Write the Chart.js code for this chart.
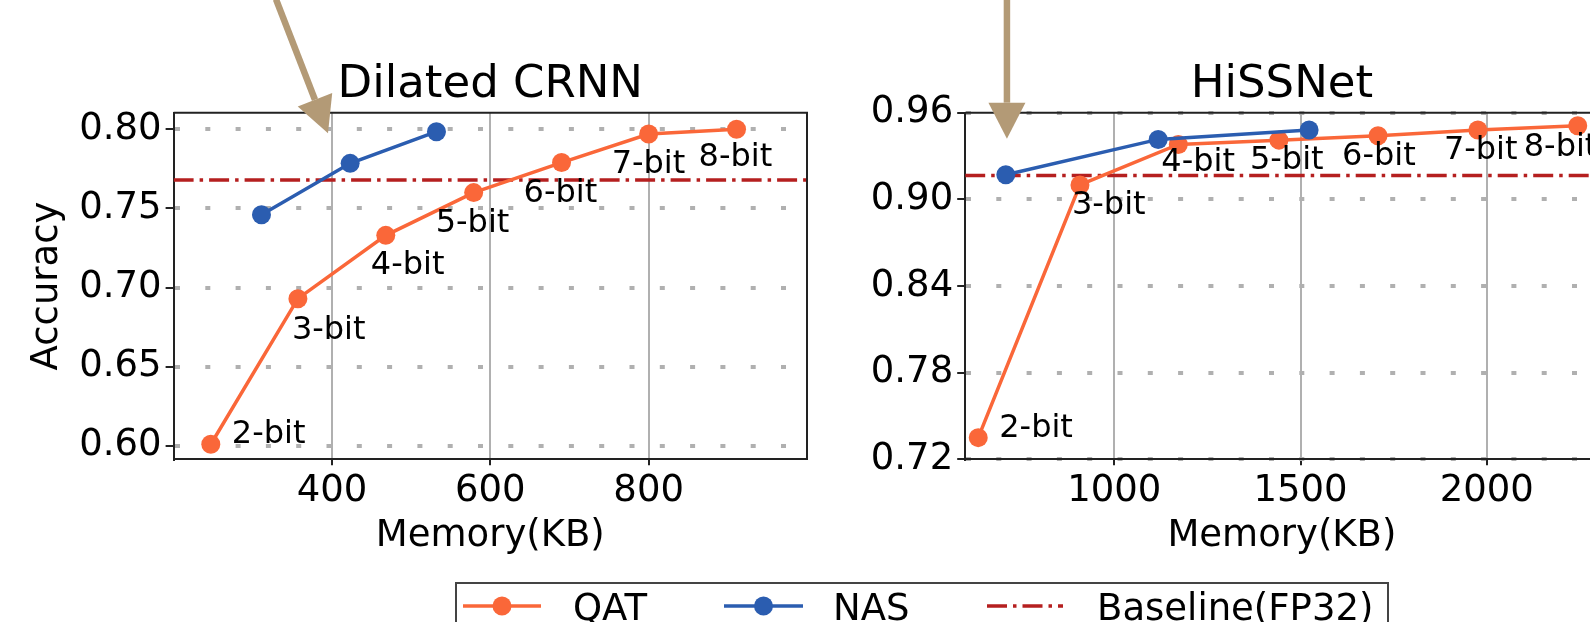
<!DOCTYPE html>
<html>
<head>
<meta charset="utf-8">
<script src="https://cdn.jsdelivr.net/npm/chart.js@4.4.1/dist/chart.umd.min.js"></script>
<style>
  body { margin: 0; background: #fff; overflow: hidden; width: 1590px; height: 622px; position: relative; }
  canvas { position: absolute; top: 0; }
  #crnn { left: 0; }
  #hiss { left: 830px; }
</style>
</head>
<body>
<canvas id="crnn" width="1590" height="622"></canvas>
<canvas id="hiss" width="860" height="622"></canvas>
<script>
// ---- data ----
const bitLabels = ["2-bit", "3-bit", "4-bit", "5-bit", "6-bit", "7-bit", "8-bit"];

// Dilated CRNN
const crnnXTicks = [400, 600, 800];
const crnnYTicks = [0.60, 0.65, 0.70, 0.75, 0.80];
const crnnQatMem = [247, 357, 468, 579, 690, 800, 911];
const crnnQatAcc = [0.601, 0.693, 0.733, 0.760, 0.779, 0.797, 0.800];
const crnnNasMem = [311, 423, 532];
const crnnNasAcc = [0.746, 0.7785, 0.7985];
const crnnBaseline = 0.768;

// HiSSNet
const hissXTicks = [1000, 1500, 2000];
const hissYTicks = [0.72, 0.78, 0.84, 0.90, 0.96];
const hissQatMem = [635, 908, 1172, 1442, 1708, 1976, 2244];
const hissQatAcc = [0.735, 0.910, 0.938, 0.941, 0.944, 0.948, 0.951];
const hissNasMem = [709, 1118, 1523];
const hissNasAcc = [0.917, 0.9415, 0.948];
const hissBaseline = 0.9165;

// ---- style ----
const FONT = '"DejaVu Sans", sans-serif';
const QAT_COLOR = "#fa6739";
const NAS_COLOR = "#2b5db0";
const BASE_COLOR = "#b51f1f";
const ARROW_COLOR = "#b39a76";
const GRID_COLOR = "#b0b0b0";
const SPINE_COLOR = "#222";
const BASE_DASH = [20, 6, 3.5, 6];
const MARKER_R = 9.5;

Chart.defaults.font.family = FONT;
Chart.defaults.color = "#000";

const toPoints = (xs, ys) => xs.map((x, i) => ({ x, y: ys[i] }));

// draws the top/right spines, title, bit labels and the pointer arrow
const decorPlugin = {
  id: "decor",
  afterDatasetsDraw(chart, args, opts) {
    const { ctx } = chart;
    const xs = chart.scales.x, ys = chart.scales.y;
    ctx.save();
    ctx.font = "32px " + FONT;
    ctx.fillStyle = "#000";
    ctx.textBaseline = "alphabetic";
    ctx.textAlign = "left";
    opts.labelAt.forEach((off, i) => {
      const px = xs.getPixelForValue(opts.qatX[i]);
      const py = ys.getPixelForValue(opts.qatY[i]);
      ctx.fillText(bitLabels[i], px + off[0], py + off[1]);
    });
    ctx.restore();
  },
  afterDraw(chart, args, opts) {
    const { ctx, chartArea: a } = chart;
    const xs = chart.scales.x, ys = chart.scales.y;
    ctx.save();
    ctx.strokeStyle = SPINE_COLOR;
    ctx.lineWidth = 2;
    ctx.beginPath();
    ctx.moveTo(a.left, a.top);
    ctx.lineTo(a.right, a.top);
    ctx.lineTo(a.right, a.bottom);
    ctx.stroke();

    ctx.font = "45px " + FONT;
    ctx.fillStyle = "#000";
    ctx.textAlign = "center";
    ctx.textBaseline = "alphabetic";
    ctx.fillText(opts.title, (a.left + a.right) / 2, a.top - 16);

    // arrow
    const tx = xs.getPixelForValue(opts.arrow.x);
    const ty = ys.getPixelForValue(opts.arrow.y);
    const dx = opts.arrow.dx, dy = opts.arrow.dy;
    const len = Math.hypot(dx, dy);
    const ux = -dx / len, uy = -dy / len;
    const headLen = 36, headHalf = 18.5;
    const bx = tx - ux * headLen, by = ty - uy * headLen;
    ctx.strokeStyle = ARROW_COLOR;
    ctx.fillStyle = ARROW_COLOR;
    ctx.lineWidth = 6.5;
    ctx.beginPath();
    ctx.moveTo(tx + dx, ty + dy);
    ctx.lineTo(bx, by);
    ctx.stroke();
    ctx.beginPath();
    ctx.moveTo(tx, ty);
    ctx.lineTo(bx - uy * headHalf, by + ux * headHalf);
    ctx.lineTo(bx + uy * headHalf, by - ux * headHalf);
    ctx.closePath();
    ctx.fill();
    ctx.restore();
  }
};

// legend box under both panels (drawn on the wide left canvas)
const legendPlugin = {
  id: "figLegend",
  afterDraw(chart) {
    const { ctx } = chart;
    const items = [
      { label: "QAT", color: QAT_COLOR, x0: 463, x1: 541, tx: 573, marker: true },
      { label: "NAS", color: NAS_COLOR, x0: 724, x1: 803, tx: 833, marker: true },
      { label: "Baseline(FP32)", color: BASE_COLOR, x0: 987, x1: 1063, tx: 1097, dash: BASE_DASH }
    ];
    const y = 606;
    ctx.save();
    ctx.fillStyle = "#fff";
    ctx.fillRect(456, 583, 932, 60);
    ctx.strokeStyle = "#444";
    ctx.lineWidth = 2;
    ctx.strokeRect(456, 583, 932, 60);
    items.forEach((it) => {
      ctx.strokeStyle = it.color;
      ctx.lineWidth = 3.5;
      ctx.setLineDash(it.dash || []);
      ctx.beginPath();
      ctx.moveTo(it.x0, y);
      ctx.lineTo(it.x1, y);
      ctx.stroke();
      ctx.setLineDash([]);
      if (it.marker) {
        ctx.fillStyle = it.color;
        ctx.beginPath();
        ctx.arc((it.x0 + it.x1) / 2, y, MARKER_R, 0, Math.PI * 2);
        ctx.fill();
      }
      ctx.fillStyle = "#000";
      ctx.font = "37px " + FONT;
      ctx.textBaseline = "alphabetic";
      ctx.fillText(it.label, it.tx, 620);
    });
    ctx.restore();
  }
};

function makePanel(id, p) {
  return new Chart(document.getElementById(id), {
    type: "line",
    data: {
      datasets: [
        {
          label: "QAT",
          data: toPoints(p.qatX, p.qatY),
          borderColor: QAT_COLOR,
          backgroundColor: QAT_COLOR,
          borderWidth: 3.5,
          pointRadius: MARKER_R,
          pointBorderWidth: 0,
          order: 2
        },
        {
          label: "NAS",
          data: toPoints(p.nasX, p.nasY),
          borderColor: NAS_COLOR,
          backgroundColor: NAS_COLOR,
          borderWidth: 3.5,
          pointRadius: MARKER_R,
          pointBorderWidth: 0,
          order: 1
        },
        {
          label: "Baseline(FP32)",
          data: [{ x: p.xMin, y: p.baseline }, { x: p.xMax, y: p.baseline }],
          borderColor: BASE_COLOR,
          borderWidth: 3.5,
          borderDash: BASE_DASH,
          pointRadius: 0,
          order: 3
        }
      ]
    },
    options: {
      responsive: false,
      animation: false,
      events: [],
      layout: { padding: { top: 112.7, left: 0, right: p.padRight, bottom: 63 } },
      plugins: {
        legend: { display: false },
        tooltip: { enabled: false },
        decor: {
          title: p.title,
          qatX: p.qatX,
          qatY: p.qatY,
          labelAt: p.labelAt,
          arrow: p.arrow
        }
      },
      scales: {
        x: {
          type: "linear",
          min: p.xMin,
          max: p.xMax,
          afterBuildTicks: (axis) => { axis.ticks = p.xTicks.map((v) => ({ value: v })); },
          afterFit: (axis) => { axis.height = 99.7; },
          ticks: {
            font: { size: 37, lineHeight: 1 },
            padding: 8,
            maxRotation: 0,
            autoSkip: false,
            callback: (v) => String(v)
          },
          grid: { color: GRID_COLOR, lineWidth: 2, tickColor: SPINE_COLOR, tickLength: 6, tickWidth: 2 },
          border: { color: SPINE_COLOR, width: 2 },
          title: { display: true, text: "Memory(KB)", font: { size: 37, lineHeight: 1.2 }, padding: 0 }
        },
        y: {
          min: p.yMin,
          max: p.yMax,
          afterBuildTicks: (axis) => { axis.ticks = p.yTicks.map((v) => ({ value: v })); },
          afterFit: (axis) => { axis.width = p.yAxisWidth; },
          ticks: {
            font: { size: 37, lineHeight: 1 },
            padding: 4,
            autoSkip: false,
            callback: (v) => v.toFixed(2)
          },
          grid: { color: GRID_COLOR, lineWidth: 4, tickColor: SPINE_COLOR, tickLength: 8, tickWidth: 2, tickBorderDash: [] },
          border: { color: SPINE_COLOR, width: 2, dash: [5, 25.3] },
          title: {
            display: !!p.yTitle,
            text: p.yTitle || "",
            font: { size: 37, lineHeight: 1.2 },
            padding: { top: 25, bottom: 0 }
          }
        }
      }
    },
    plugins: p.extraPlugins ? [decorPlugin, ...p.extraPlugins] : [decorPlugin]
  });
}

makePanel("crnn", {
  title: "Dilated CRNN",
  xMin: 200, xMax: 1000, yMin: 0.5915, yMax: 0.8105,
  xTicks: crnnXTicks, yTicks: crnnYTicks,
  qatX: crnnQatMem, qatY: crnnQatAcc,
  nasX: crnnNasMem, nasY: crnnNasAcc,
  baseline: crnnBaseline,
  yTitle: "Accuracy",
  yAxisWidth: 173.6,
  padRight: 1590 - 807,
  labelAt: [[21, -1], [-6, 40], [-15, 39], [-38, 39], [-38, 39], [-37, 39], [-38, 37]],
  arrow: { x: 395, y: 0.7975, dx: -52, dy: -134 },
  extraPlugins: [legendPlugin]
});

makePanel("hiss", {
  title: "HiSSNet",
  xMin: 600, xMax: 2300, yMin: 0.72, yMax: 0.96,
  xTicks: hissXTicks, yTicks: hissYTicks,
  qatX: hissQatMem, qatY: hissQatAcc,
  nasX: hissNasMem, nasY: hissNasAcc,
  baseline: hissBaseline,
  yTitle: null,
  yAxisWidth: 135.2,
  padRight: 860 - 768.6,
  labelAt: [[21, -1], [-8, 29], [-17, 27], [-29, 29], [-36, 29], [-34, 29], [-54, 30]],
  arrow: { x: 712, y: 0.942, dx: 0, dy: -145 }
});
</script>
</body>
</html>
